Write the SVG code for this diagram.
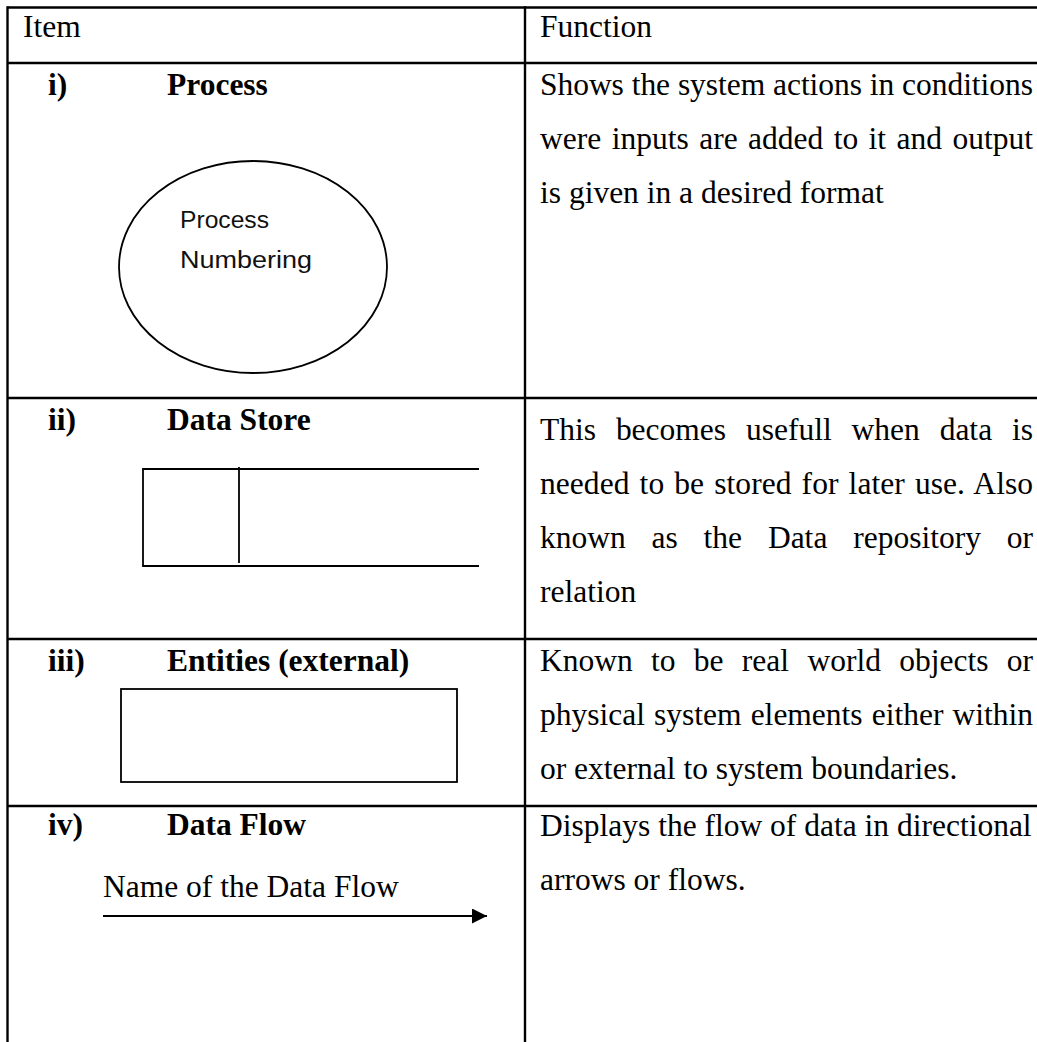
<svg xmlns="http://www.w3.org/2000/svg" width="1037" height="1042" viewBox="0 0 1037 1042">
  <style>
    .grid { stroke: #000; stroke-width: 2.4; fill: none; }
    .shape { stroke: #000; stroke-width: 1.8; fill: none; }
    .serif { font-family: "Liberation Serif", "Times New Roman", serif; font-size: 31.5px; fill: #000; }
    .bold { font-weight: bold; }
    .sans { font-family: "Liberation Sans", Arial, sans-serif; font-size: 23px; fill: #111; }
  </style>
  <defs>
    <marker id="arrowhead" markerWidth="16" markerHeight="16" refX="15" refY="7.5" orient="auto" markerUnits="userSpaceOnUse">
      <path d="M0,0 L15,7.5 L0,15 Z" fill="#000"/>
    </marker>
  </defs>
  <rect width="1037" height="1042" fill="#fff"/>

  <!-- table rules -->
  <g id="table-grid" class="grid">
    <line x1="7.5" y1="7.5" x2="1037" y2="7.5"/>
    <line x1="7.5" y1="63" x2="1037" y2="63"/>
    <line x1="7.5" y1="398" x2="1037" y2="398"/>
    <line x1="7.5" y1="639" x2="1037" y2="639"/>
    <line x1="7.5" y1="806" x2="1037" y2="806"/>
    <line x1="7.5" y1="6.3" x2="7.5" y2="1042"/>
    <line x1="525" y1="6.3" x2="525" y2="1042"/>
  </g>

  <!-- header row -->
  <g id="header">
    <text class="serif" x="23" y="37">Item</text>
    <text class="serif" x="540" y="37">Function</text>
  </g>

  <!-- i) Process -->
  <g id="node-process">
    <text class="serif bold" x="48" y="95">i)</text>
    <text class="serif bold" x="167" y="95">Process</text>
    <ellipse class="shape" cx="253" cy="267" rx="134" ry="106" stroke-width="1.4"/>
    <text class="sans" x="180" y="228" textLength="89" lengthAdjust="spacingAndGlyphs">Process</text>
    <text class="sans" x="180" y="268" textLength="132" lengthAdjust="spacingAndGlyphs">Numbering</text>
    <text class="serif" x="540" y="95" textLength="493" lengthAdjust="spacing">Shows the system actions in conditions</text>
    <text class="serif" x="540" y="149" word-spacing="2.5" textLength="493" lengthAdjust="spacing">were inputs are added to it and output</text>
    <text class="serif" x="540" y="203">is given in a desired format</text>
  </g>

  <!-- ii) Data Store -->
  <g id="node-datastore">
    <text class="serif bold" x="48" y="430">ii)</text>
    <text class="serif bold" x="167" y="430">Data Store</text>
    <path class="shape" d="M479,469 H143 V566 H479"/>
    <line class="shape" x1="239" y1="467" x2="239" y2="563"/>
    <text class="serif" x="540" y="440" word-spacing="12" textLength="493" lengthAdjust="spacing">This becomes usefull when data is</text>
    <text class="serif" x="540" y="494" word-spacing="2.2" textLength="493" lengthAdjust="spacing">needed to be stored for later use. Also</text>
    <text class="serif" x="540" y="548" word-spacing="17.9" textLength="493" lengthAdjust="spacing">known as the Data repository or</text>
    <text class="serif" x="540" y="602">relation</text>
  </g>

  <!-- iii) Entities (external) -->
  <g id="node-entity">
    <text class="serif bold" x="48" y="671">iii)</text>
    <text class="serif bold" x="167" y="671">Entities (external)</text>
    <rect class="shape" x="121" y="689" width="336" height="93"/>
    <text class="serif" x="540" y="671" word-spacing="10.4" textLength="493" lengthAdjust="spacing">Known to be real world objects or</text>
    <text class="serif" x="540" y="725" word-spacing="1.2" textLength="493" lengthAdjust="spacing">physical system elements either within</text>
    <text class="serif" x="540" y="779">or external to system boundaries.</text>
  </g>

  <!-- iv) Data Flow -->
  <g id="node-dataflow">
    <text class="serif bold" x="48" y="835">iv)</text>
    <text class="serif bold" x="167" y="835">Data Flow</text>
    <text class="serif" x="103" y="897">Name of the Data Flow</text>
    <text class="serif" x="540" y="836">Displays the flow of data in directional</text>
    <text class="serif" x="540" y="890">arrows or flows.</text>
  </g>

  <!-- flow arrow -->
  <g id="connectors">
    <line x1="103" y1="916" x2="487" y2="916" stroke="#000" stroke-width="2" marker-end="url(#arrowhead)"/>
  </g>
</svg>
